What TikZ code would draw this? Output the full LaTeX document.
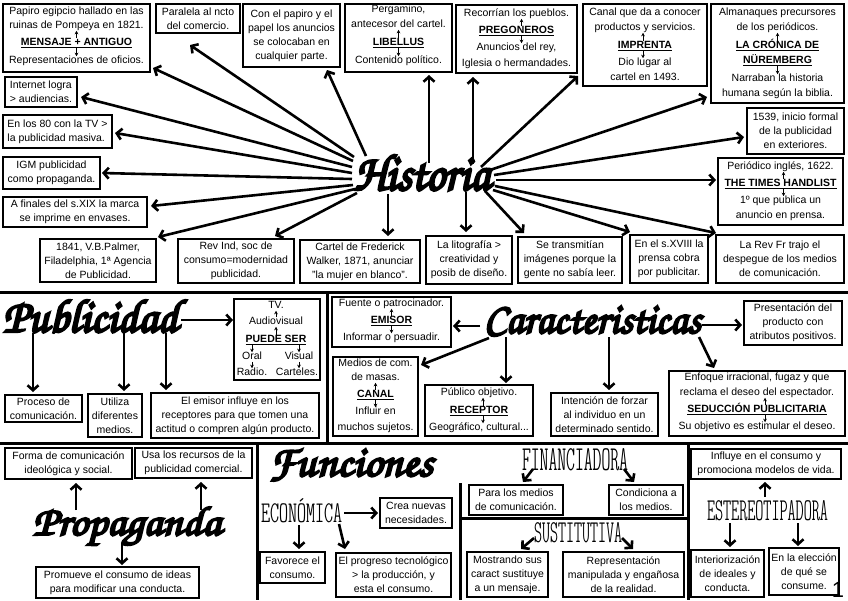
\documentclass[tikz,border=0pt]{standalone}
\usepackage{graphicx}
\usepackage{fontspec}
\setmainfont{Liberation Sans}
\newfontfamily\scr{texgyrechorus-mediumitalic.otf}[FakeBold=5]
\newfontfamily\thn{lmmonoltcond10-regular.otf}
\usetikzlibrary{arrows.meta}
\newcommand\bxfont{\fontsize{10.5}{14}\selectfont}
\tikzset{
  every node/.style={inner sep=0pt, outer sep=0pt},
  box/.style={draw, line width=1.6pt, align=center, font=\bxfont},
  tx/.style={font=\bxfont, text height=7.5pt, text depth=2pt},
  tt/.style={font=\bxfont\bfseries, text height=7.5pt, text depth=2pt},
  big/.style={line width=2.6pt, -{Straight Barb[length=5pt,width=11pt]}},
  sm/.style={line width=0.9pt, -{Stealth[length=3.5pt,width=3.5pt]}},
  sep/.style={line width=3pt},
  ttl/.style={anchor=base west},
}
\newcommand\mybox[7][]{\node[box,#1,minimum width={(#5-#3)*1pt},minimum height={(#6-#4)*1pt}] (#2) at ({(#3+#5)/2},{(#4+#6)/2}) {#7};}
\newcommand\myline[4]{\node[tx] (#1) at (#2,#3) {#4};}
\newcommand\mytitle[4]{\node[tt] (#1) at (#2,#3) {\underline{#4}};}
\begin{document}
\begin{tikzpicture}[x=1pt,y=-1pt]
\fill[white] (0,0) rectangle (848,600);
\useasboundingbox (0,0) rectangle (848,600);

% separators
\draw[sep] (0,292.5) -- (848,292.5);
\draw[sep] (0,443) -- (848,443);
\draw[sep] (327,292.5) -- (327,443);
\draw[sep] (257,443) -- (257,600);
\draw[sep] (688,443) -- (688,600);
\draw[sep] (460,483) -- (460,600);
\draw[sep] (460,518) -- (688,518);

% ===== HISTORIA =====
\node[ttl] (hist) at (354,190) {\resizebox{136pt}{35pt}{\scr Historia}};

% box A
\mybox{A}{3}{4}{150}{72}{}
\myline{a1}{76.5}{12}{Papiro egipcio hallado en las}
\myline{a2}{76.5}{26}{ruinas de Pompeya en 1821.}
\mytitle{a3}{76.5}{43}{MENSAJE + ANTIGUO}
\myline{a4}{76.5}{61}{Representaciones de oficios.}
\draw[sm] (a3.north) -- (a2.south);
\draw[sm] (a3.south) -- (a4.north);

\mybox{B}{156}{4}{240}{33}{Paralela al ncto\\del comercio.}
\mybox{C}{243}{4}{340}{67}{Con el papiro y el\\papel los anuncios\\se colocaban en\\cualquier parte.}

% box D
\mybox{D}{345}{4}{452}{72}{}
\myline{d1}{398.5}{10}{Pergamino,}
\myline{d2}{398.5}{25}{antecesor del cartel.}
\mytitle{d3}{398.5}{43}{LIBELLUS}
\myline{d4}{398.5}{61}{Contenido político.}
\draw[sm] (d3.north) -- (d2.south);
\draw[sm] (d3.south) -- (d4.north);

% box E
\mybox{E}{456}{5}{577}{73}{}
\myline{e1}{516.5}{14}{Recorrían los pueblos.}
\mytitle{e2}{516.5}{31}{PREGONEROS}
\myline{e3}{516.5}{48}{Anuncios del rey,}
\myline{e4}{516.5}{64}{Iglesia o hermandades.}
\draw[sm] ([xshift=5pt]e2.north) -- ([xshift=5pt]e1.south);
\draw[sm] ([xshift=5pt]e2.south) -- ([xshift=5pt]e3.north);

% box F
\mybox{F}{583}{4}{707}{86}{}
\myline{f1}{645}{13}{Canal que da a conocer}
\myline{f2}{645}{28}{productos y servicios.}
\mytitle{f3}{645}{46}{IMPRENTA}
\myline{f4}{645}{63}{Dio lugar al}
\myline{f5}{645}{78}{cartel en 1493.}
\draw[sm] ([xshift=-2pt]f3.north) -- ([xshift=-2pt]f2.south);
\draw[sm] ([xshift=-2pt]f3.south) -- ([xshift=-2pt]f4.north);

% box G
\mybox{G}{711}{4}{844}{103}{}
\myline{g1}{777.5}{13}{Almanaques precursores}
\myline{g2}{777.5}{28}{de los periódicos.}
\mytitle{g3}{777.5}{46}{LA CRÓNICA DE}
\mytitle{g4}{777.5}{61}{NÜREMBERG}
\myline{g5}{777.5}{79}{Narraban la historia}
\myline{g6}{777.5}{94}{humana según la biblia.}
\draw[sm] (g3.north) -- (g2.south);
\draw[sm] (g4.south) -- (g5.north);

\mybox{H}{747}{108}{844}{154}{1539, inicio formal\\de la publicidad\\en exteriores.}

% box I
\mybox{I}{718}{158}{843}{225}{}
\myline{i1}{780.5}{167}{Periódico inglés, 1622.}
\mytitle{i2}{780.5}{184}{THE TIMES HANDLIST}
\myline{i3}{780.5}{201}{1º que publica un}
\myline{i4}{780.5}{216}{anuncio en prensa.}
\draw[sm] ([xshift=3pt]i2.north) -- ([xshift=3pt]i1.south);
\draw[sm] ([xshift=3pt]i2.south) -- ([xshift=3pt]i3.north);

\mybox{J}{716}{235}{844}{283}{La Rev Fr trajo el\\despegue de los medios\\de comunicación.}
\mybox{K}{630}{235}{708}{283}{En el s.XVIII la\\prensa cobra\\por publicitar.}
\mybox{L}{518}{237}{622}{283}{Se transmitían\\imágenes porque la\\gente no sabía leer.}
\mybox{M}{426}{236}{512}{284}{La litografía >\\creatividad y\\posib de diseño.}
\mybox{N}{300}{240}{420}{283}{Cartel de Frederick\\Walker, 1871, anunciar\\"la mujer en blanco".}
\mybox{O}{178}{239}{294}{283}{Rev Ind, soc de\\consumo=modernidad\\publicidad.}
\mybox{P}{40}{239}{156}{282}{1841, V.B.Palmer,\\Filadelphia, 1ª Agencia\\de Publicidad.}
\mybox{Q}{3}{197}{147}{227}{A finales del s.XIX la marca\\se imprime en envases.}
\mybox{R}{3}{157}{100}{189}{IGM publicidad\\como propaganda.}
\mybox[align=left]{S}{3}{115}{112}{148}{En los 80 con la TV >\\la publicidad masiva.}
\mybox[align=left]{T}{5}{77}{77}{107}{Internet logra\\> audiencias.}

% historia connectors
\coordinate (hA) at (353,161);
\coordinate (hB) at (354,157);
\coordinate (hC) at (366,156);
\coordinate (hT) at (352,167);
\coordinate (hS) at (352,173);
\coordinate (hR) at (352,179);
\coordinate (hQ) at (353,185);
\coordinate (hP) at (355,189);
\coordinate (hO) at (357,193);
\coordinate (hN) at (388,194);
\coordinate (hD) at (429,163);
\coordinate (hE) at (473,164);
\coordinate (hE2) at (481,167);
\coordinate (hG) at (490,170);
\coordinate (hH) at (494,175);
\coordinate (hI) at (496,180);
\coordinate (hJ) at (495,186);
\coordinate (hK) at (493,190);
\coordinate (hL) at (485,191);
\coordinate (hM) at (466,192);
\draw[big] (hA) -- ([shift={(3,-4)}]A.south east);
\draw[big] (hB) -- ([shift={(-8,12)}]B.south);
\draw[big] (hC) -- ([shift={(-13,3)}]C.south east);
\draw[big] (hT) -- ([shift={(4,5)}]T.east);
\draw[big] (hS) -- ([shift={(3,1.5)}]S.east);
\draw[big] (hR) -- ([shift={(2,0)}]R.east);
\draw[big] (hQ) -- ([shift={(4,-6)}]Q.east);
\draw[big] (hP) -- ([shift={(2,-2)}]P.north east);
\draw[big] (hO) -- ([shift={(39,-3)}]O.north);
\draw[big] (hN) -- ([shift={(28,-4)}]N.north);
\draw[big] (hD) -- ([shift={(30.5,3)}]D.south);
\draw[big] (hE) -- ([shift={(17,4)}]E.south west);
\draw[big] (hE2) -- ([shift={(1,3)}]E.south east);
\draw[big] (hG) -- ([shift={(-4,-6)}]G.south west);
\draw[big] (hH) -- ([shift={(-3,6)}]H.west);
\draw[big] (hI) -- ([shift={(-2,-11.5)}]I.west);
\draw[big] (hJ) -- ([shift={(0,-2)}]J.north west);
\draw[big] (hK) -- ([shift={(0,-3)}]K.north west);
\draw[big] (hL) -- ([shift={(6,-4)}]L.north west);
\draw[big] (hM) -- ([shift={(-3,-4)}]M.north);

% ===== PUBLICIDAD =====
\node[ttl] (pub) at (3,332) {\resizebox{175pt}{32pt}{\scr Publicidad}};
\mybox{U}{234}{299}{320}{380}{}
\myline{u1}{276}{306}{TV.}
\myline{u2}{276}{322}{Audiovisual}
\mytitle{u3}{276}{340}{PUEDE SER}
\myline{u4}{252}{357}{Oral}
\myline{u5}{299}{357}{Visual}
\myline{u6}{252}{373}{Radio.}
\myline{u7}{297}{373}{Carteles.}
\draw[sm] (u2.north) -- (u1.south);
\draw[sm] (u3.north) -- (u2.south);
\draw[sm] (u3.south -| u4) -- (u4.north);
\draw[sm] (u3.south -| u5) -- (u5.north);
\draw[sm] (u4.south) -- (u6.north);
\draw[sm] (u5.south) -- (u5.south |- u7.north);
\mybox{V}{5}{395}{82}{422}{Proceso de\\comunicación.}
\mybox{W}{88}{394}{142}{437}{Utiliza\\diferentes\\medios.}
\mybox{X}{151}{393}{319}{438}{El emisor influye en los\\receptores para que tomen una\\actitud o compren algún producto.}
\coordinate (pb0) at (181,320);
\coordinate (pb1) at (33,333);
\coordinate (pb2) at (124,333);
\coordinate (pb3) at (166,333);
\draw[big, shorten >=1pt] (pb0) -- (pb0 -| U.west);
\draw[big, shorten >=3pt] (pb1) -- (pb1 |- V.north);
\draw[big, shorten >=3pt] (pb2) -- (pb2 |- W.north);
\draw[big, shorten >=3pt] (pb3) -- (pb3 |- X.north);

% ===== CARACTERISTICAS =====
\node[ttl] (car) at (484,333) {\resizebox{217pt}{27pt}{\scr Caracteristicas}};
\mybox{Y}{332}{297}{451}{347}{}
\myline{y1}{391.5}{304}{Fuente o patrocinador.}
\mytitle{y2}{391.5}{321}{EMISOR}
\myline{y3}{391.5}{338}{Informar o persuadir.}
\draw[sm] (y2.north) -- (y1.south);
\draw[sm] (y2.south) -- (y3.north);
\mybox{Z}{744}{301}{842}{345}{Presentación del\\producto con\\atributos positivos.}
\mybox{AA}{669}{371}{845}{436}{}
\myline{aa1}{757}{378}{Enfoque irracional, fugaz y que}
\myline{aa2}{757}{393}{reclama el deseo del espectador.}
\mytitle{aa3}{757}{410}{SEDUCCIÓN PUBLICITARIA}
\myline{aa4}{757}{427}{Su objetivo es estimular el deseo.}
\draw[sm] ([xshift=8pt]aa3.north) -- ([xshift=8pt]aa2.south);
\draw[sm] ([xshift=8pt]aa3.south) -- ([xshift=8pt]aa4.north);
\mybox{AB}{551}{393}{658}{436}{Intención de forzar\\al individuo en un\\determinado sentido.}
\mybox{AC}{425}{385}{533}{436}{}
\myline{ac1}{479}{393}{Público objetivo.}
\mytitle{ac2}{479}{411}{RECEPTOR}
\myline{ac3}{479}{428}{Geográfico, cultural...}
\draw[sm] ([xshift=4pt]ac2.north) -- ([xshift=4pt]ac1.south);
\draw[sm] ([xshift=4pt]ac2.south) -- ([xshift=4pt]ac3.north);
\mybox{AD}{333}{357}{418}{436}{}
\myline{ad1}{375.5}{364}{Medios de com.}
\myline{ad2}{375.5}{378}{de masas.}
\mytitle{ad3}{375.5}{395}{CANAL}
\myline{ad4}{375.5}{412}{Influir en}
\myline{ad5}{375.5}{428}{muchos sujetos.}
\draw[sm] (ad3.north) -- (ad2.south);
\draw[sm] (ad3.south) -- (ad4.north);
\coordinate (c1) at (480,326);
\coordinate (c2) at (702,325);
\coordinate (c3) at (699,337);
\coordinate (c4) at (609,337);
\coordinate (c5) at (506,337);
\coordinate (c6) at (489,338);
\draw[big, shorten >=2pt] (c1) -- (c1 -| Y.east);
\draw[big, shorten >=2pt] (c2) -- (c2 -| Z.west);
\draw[big] (c3) -- ([shift={(45,-3)}]AA.north west);
\draw[big, shorten >=3pt] (c4) -- (c4 |- AB.north);
\draw[big, shorten >=2pt] (c5) -- (c5 |- AC.north);
\draw[big] (c6) -- ([shift={(3,8)}]AD.north east);

% ===== PROPAGANDA =====
\node[ttl] (prop) at (33,535) {\resizebox{188pt}{28pt}{\scr Propaganda}};
\mybox{AE}{5}{448}{132}{479}{Forma de comunicación\\ideológica y social.}
\mybox{AF}{135}{448}{252}{478}{Usa los recursos de la\\publicidad comercial.}
\mybox{AG}{36}{567}{199}{598}{Promueve el consumo de ideas\\para modificar una conducta.}
\coordinate (pr1) at (76,510);
\coordinate (pr2) at (201,510);
\coordinate (pr3) at (122,543);
\draw[big, shorten >=4pt] (pr1) -- (pr1 |- AE.south);
\draw[big, shorten >=4pt] (pr2) -- (pr2 |- AF.south);
\draw[big, shorten >=2pt] (pr3) -- (pr3 |- AG.north);

% ===== FUNCIONES =====
\node[ttl] (fun) at (269,476) {\resizebox{164pt}{27pt}{\scr Funciones}};
\node[ttl] (eco) at (261,522) {\resizebox{81pt}{24pt}{\thn ECONÓMICA}};
\mybox{AH}{380}{498}{452}{528}{Crea nuevas\\necesidades.}
\mybox{AI}{260}{552}{325}{583}{Favorece el\\consumo.}
\mybox{AJ}{336}{553}{451}{597}{El progreso tecnológico\\> la producción, y\\esta el consumo.}
\coordinate (ec1) at (344,513);
\coordinate (ec2) at (299,525);
\coordinate (ec3) at (339,524);
\draw[big, shorten >=2pt] (ec1) -- (ec1 -| AH.west);
\draw[big, shorten >=3pt] (ec2) -- (ec2 |- AI.north);
\draw[big] (ec3) -- ([shift={(9,-4)}]AJ.north west);

\node[ttl] (fin) at (522,470) {\resizebox{106pt}{22pt}{\thn FINANCIADORA}};
\mybox{AK}{469}{485}{563}{515}{Para los medios\\de comunicación.}
\mybox{AL}{609}{485}{683}{515}{Condiciona a\\los medios.}
\coordinate (fa1) at (533,469);
\coordinate (fa2) at (624,469);
\draw[big] (fa1) -- ([shift={(7,-3)}]AK.north);
\draw[big] (fa2) -- ([shift={(-12,-3)}]AL.north);

\node[ttl] (sus) at (534,542) {\resizebox{88pt}{20pt}{\thn SUSTITUTIVA}};
\mybox{AM}{467}{552}{548}{597}{Mostrando sus\\caract sustituye\\a un mensaje.}
\mybox{AN}{563}{552}{684}{597}{Representación\\manipulada y engañosa\\de la realidad.}
\coordinate (su1) at (534,538);
\coordinate (su2) at (622,538);
\draw[big] (su1) -- ([shift={(13.5,-3)}]AM.north);
\draw[big] (su2) -- ([shift={(9.5,-3)}]AN.north);

\node[ttl] (est) at (707,520) {\resizebox{121pt}{20pt}{\thn ESTEREOTIPADORA}};
\mybox{AO}{691}{449}{841}{479}{Influye en el consumo y\\promociona modelos de vida.}
\mybox{AP}{691}{550}{764}{597}{Interiorización\\de ideales y\\conducta.}
\mybox{AQ}{769}{548}{839}{595}{En la elección\\de qué se\\consume.}
\coordinate (st1) at (765,497);
\coordinate (st2) at (730,523);
\coordinate (st3) at (798,523);
\draw[big, shorten >=3pt] (st1) -- (st1 |- AO.south);
\draw[big, shorten >=3pt] (st2) -- (st2 |- AP.north);
\draw[big, shorten >=2pt] (st3) -- (st3 |- AQ.north);

\node[anchor=base] (pg) at (838,597) {\fontsize{22}{22}\selectfont 1};
\end{tikzpicture}
\end{document}
